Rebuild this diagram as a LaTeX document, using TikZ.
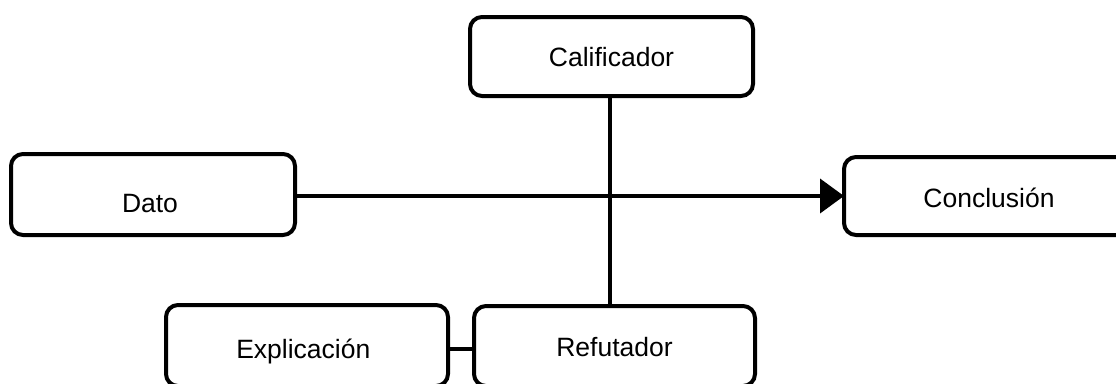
\documentclass[tikz,border=0pt]{standalone}
\usepackage{fontspec}
\setmainfont{Liberation Sans}
\usetikzlibrary{arrows.meta}
\newcommand\boxtext[3]{\raisebox{#2}[0pt][0pt]{\kern#1#3}}
\begin{document}
\begin{tikzpicture}[x=1pt,y=-1pt,
  box/.style={draw, line width=4pt, rounded corners=12pt, inner sep=0pt, outer sep=0pt,
    font=\fontsize{26.5}{31}\selectfont},
  conn/.style={line width=4pt}]
\useasboundingbox (0,0) rectangle (1116,383);
\node[box, minimum width=283pt, minimum height=79pt] (cal) at (611.5,56.5) {\boxtext{0pt}{-9.5pt}{Calificador}};
\node[box, minimum width=284pt, minimum height=81pt] (dato) at (153,194.5) {\boxtext{-6pt}{-17.5pt}{Dato}};
\node[box, minimum width=290pt, minimum height=78pt] (conc) at (989,196) {\boxtext{0pt}{-11pt}{Conclusión}};
\node[box, minimum width=282pt, minimum height=81pt] (exp) at (307,345.5) {\boxtext{-7.4pt}{-13pt}{Explicación}};
\node[box, minimum width=281pt, minimum height=80pt] (ref) at (614.5,346) {\boxtext{0pt}{-10pt}{Refutador}};
\coordinate (vx) at (610,0);
\coordinate (hy) at (0,196);
\coordinate (ey) at (0,349);
\draw[conn, -{Triangle[length=24pt,width=34pt]}] (dato.east |- hy) -- (conc.west |- hy);
\draw[conn] (cal.south -| vx) -- (ref.north -| vx);
\draw[conn] (exp.east |- ey) -- (ref.west |- ey);
\end{tikzpicture}
\end{document}
